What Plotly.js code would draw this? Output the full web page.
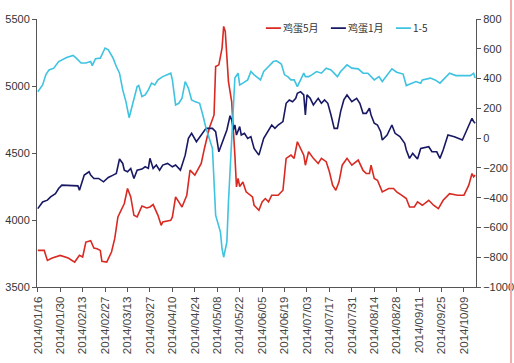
<!DOCTYPE html>
<html><head><meta charset="utf-8">
<script src="https://cdn.plot.ly/plotly-3.0.1.min.js"></script>
<style>html,body{margin:0;padding:0;background:#fff;overflow:hidden}#wrap{position:relative;width:514px;height:363px}#edge{position:absolute;left:510px;top:0;width:2px;height:363px;background:#f3adad}</style>
</head><body><div id="wrap"><div id="chart" style="width:514px;height:363px"></div><div id="edge"></div></div>
<script>
const may5Dates = ['2014-01-16','2014-01-20','2014-01-22','2014-01-25','2014-01-30','2014-02-04','2014-02-08','2014-02-11','2014-02-13','2014-02-15','2014-02-18','2014-02-20','2014-02-22','2014-02-24','2014-02-25','2014-02-28','2014-03-03','2014-03-05','2014-03-07','2014-03-10','2014-03-11','2014-03-13','2014-03-15','2014-03-17','2014-03-19','2014-03-22','2014-03-25','2014-03-27','2014-03-29','2014-04-01','2014-04-03','2014-04-04','2014-04-09','2014-04-10','2014-04-12','2014-04-14','2014-04-16','2014-04-19','2014-04-21','2014-04-24','2014-04-26','2014-04-28','2014-04-30','2014-05-03','2014-05-06','2014-05-07','2014-05-09','2014-05-11','2014-05-12','2014-05-13','2014-05-15','2014-05-17','2014-05-19','2014-05-20','2014-05-21','2014-05-22','2014-05-24','2014-05-26','2014-05-30','2014-05-31','2014-06-03','2014-06-05','2014-06-07','2014-06-09','2014-06-11','2014-06-15','2014-06-18','2014-06-20','2014-06-23','2014-06-25','2014-06-27','2014-06-29','2014-07-01','2014-07-02','2014-07-04','2014-07-07','2014-07-10','2014-07-12','2014-07-15','2014-07-17','2014-07-19','2014-07-21','2014-07-23','2014-07-25','2014-07-28','2014-07-31','2014-08-04','2014-08-07','2014-08-09','2014-08-11','2014-08-12','2014-08-14','2014-08-16','2014-08-19','2014-08-23','2014-08-26','2014-08-28','2014-08-31','2014-09-03','2014-09-05','2014-09-08','2014-09-10','2014-09-13','2014-09-17','2014-09-20','2014-09-23','2014-09-26','2014-09-30','2014-10-05','2014-10-09','2014-10-12','2014-10-14','2014-10-15','2014-10-16'];
const may5Values = [3773,3773,3698,3716,3736,3716,3686,3736,3724,3835,3846,3791,3786,3773,3691,3686,3761,3861,4023,4090,4123,4235,4172,4035,4023,4105,4090,4097,4115,4035,3960,3985,3998,4023,4172,4135,4097,4185,4372,4335,4385,4422,4534,4684,4784,5145,5158,5283,5445,5407,5033,4883,4484,4247,4310,4250,4284,4210,4172,4110,4073,4135,4160,4135,4185,4185,4222,4460,4484,4460,4584,4534,4484,4409,4509,4460,4422,4460,4435,4360,4260,4222,4285,4409,4460,4409,4447,4370,4347,4347,4409,4310,4297,4210,4235,4235,4210,4185,4160,4097,4097,4135,4110,4147,4110,4085,4147,4197,4185,4185,4260,4347,4322,4335];

const jan1Dates = ['2014-01-16','2014-01-19','2014-01-22','2014-01-24','2014-01-27','2014-01-29','2014-01-31','2014-02-05','2014-02-10','2014-02-11','2014-02-14','2014-02-17','2014-02-18','2014-02-20','2014-02-23','2014-02-26','2014-03-01','2014-03-04','2014-03-06','2014-03-08','2014-03-10','2014-03-11','2014-03-13','2014-03-15','2014-03-17','2014-03-19','2014-03-22','2014-03-24','2014-03-26','2014-03-27','2014-03-29','2014-03-31','2014-04-02','2014-04-04','2014-04-07','2014-04-10','2014-04-12','2014-04-15','2014-04-18','2014-04-20','2014-04-22','2014-04-25','2014-04-28','2014-05-01','2014-05-05','2014-05-07','2014-05-09','2014-05-11','2014-05-14','2014-05-16','2014-05-17','2014-05-18','2014-05-19','2014-05-20','2014-05-22','2014-05-23','2014-05-25','2014-05-27','2014-05-29','2014-05-31','2014-06-03','2014-06-06','2014-06-08','2014-06-11','2014-06-13','2014-06-15','2014-06-18','2014-06-20','2014-06-22','2014-06-24','2014-06-26','2014-06-27','2014-06-29','2014-07-01','2014-07-02','2014-07-03','2014-07-05','2014-07-07','2014-07-10','2014-07-12','2014-07-14','2014-07-16','2014-07-18','2014-07-20','2014-07-22','2014-07-24','2014-07-26','2014-07-28','2014-07-31','2014-08-03','2014-08-05','2014-08-07','2014-08-09','2014-08-11','2014-08-12','2014-08-14','2014-08-16','2014-08-18','2014-08-19','2014-08-22','2014-08-25','2014-08-27','2014-08-30','2014-09-02','2014-09-03','2014-09-05','2014-09-07','2014-09-10','2014-09-12','2014-09-17','2014-09-19','2014-09-22','2014-09-24','2014-09-26','2014-09-29','2014-10-03','2014-10-08','2014-10-11','2014-10-14','2014-10-15','2014-10-16'];
const jan1Values = [4085,4135,4148,4172,4197,4235,4260,4260,4255,4222,4335,4360,4335,4310,4310,4285,4317,4335,4347,4455,4422,4372,4360,4385,4310,4372,4380,4397,4385,4460,4385,4410,4372,4410,4422,4397,4410,4372,4484,4609,4647,4584,4634,4684,4684,4659,4509,4572,4672,4778,4747,4672,4709,4634,4697,4634,4647,4609,4622,4534,4484,4609,4647,4709,4684,4709,4734,4871,4896,4883,4908,4946,4958,4934,4784,4934,4908,4859,4908,4871,4896,4871,4784,4684,4684,4809,4896,4933,4883,4908,4871,4796,4796,4834,4784,4722,4709,4659,4597,4634,4709,4647,4622,4572,4522,4460,4497,4455,4534,4547,4509,4509,4460,4522,4634,4622,4597,4684,4759,4734,4722];

const spreadDates = ['2014-01-16','2014-01-19','2014-01-21','2014-01-23','2014-01-26','2014-01-29','2014-02-03','2014-02-07','2014-02-09','2014-02-12','2014-02-15','2014-02-18','2014-02-19','2014-02-21','2014-02-24','2014-02-27','2014-03-01','2014-03-04','2014-03-06','2014-03-08','2014-03-10','2014-03-12','2014-03-14','2014-03-15','2014-03-17','2014-03-19','2014-03-20','2014-03-22','2014-03-24','2014-03-26','2014-03-28','2014-03-30','2014-04-01','2014-04-04','2014-04-09','2014-04-10','2014-04-12','2014-04-14','2014-04-16','2014-04-18','2014-04-20','2014-04-22','2014-04-24','2014-04-27','2014-04-29','2014-05-01','2014-05-05','2014-05-06','2014-05-07','2014-05-10','2014-05-11','2014-05-12','2014-05-14','2014-05-15','2014-05-17','2014-05-18','2014-05-19','2014-05-21','2014-05-22','2014-05-24','2014-05-27','2014-05-29','2014-05-31','2014-06-04','2014-06-06','2014-06-09','2014-06-12','2014-06-14','2014-06-17','2014-06-19','2014-06-21','2014-06-23','2014-06-25','2014-06-27','2014-06-29','2014-07-01','2014-07-02','2014-07-04','2014-07-06','2014-07-09','2014-07-12','2014-07-15','2014-07-18','2014-07-22','2014-07-24','2014-07-28','2014-07-31','2014-08-04','2014-08-07','2014-08-10','2014-08-14','2014-08-17','2014-08-19','2014-08-22','2014-08-25','2014-08-28','2014-09-01','2014-09-03','2014-09-06','2014-09-09','2014-09-12','2014-09-13','2014-09-18','2014-09-21','2014-09-24','2014-09-27','2014-09-30','2014-10-04','2014-10-08','2014-10-13','2014-10-15','2014-10-16'];
const spreadValues = [312,357,425,458,470,514,541,555,537,504,504,514,487,533,537,605,593,537,481,436,324,245,137,178,268,346,353,279,290,324,369,357,391,413,436,391,223,234,268,380,335,256,245,234,155,66,-69,-294,-518,-631,-743,-800,-698,-429,-25,268,403,436,357,369,391,447,425,391,447,481,514,519,497,425,413,391,391,346,391,436,413,413,425,447,436,470,458,413,447,492,470,465,436,436,391,413,380,425,465,443,430,353,369,380,369,391,403,391,369,403,436,420,420,420,436,403];

const tickDates = ['2014-01-16','2014-01-30','2014-02-13','2014-02-27','2014-03-13','2014-03-27','2014-04-10','2014-04-24','2014-05-08','2014-05-22','2014-06-05','2014-06-19','2014-07-03','2014-07-17','2014-07-31','2014-08-14','2014-08-28','2014-09-11','2014-09-25','2014-10-09'];
const tickLabels = tickDates.map(d => d.replace(/-/g, '/'));
const seriesNames = ['鸡蛋5月', '鸡蛋1月', '1-5'];

const tickFont = {family: 'Liberation Sans, Arial, sans-serif', size: 11, color: '#333'};
const axisCommon = {showline: true, linecolor: '#555', linewidth: 1, ticks: 'outside', ticklen: 4, tickcolor: '#555', showgrid: false, zeroline: false, tickfont: tickFont};

const traces = [
  {x: may5Dates, y: may5Values, name: seriesNames[0], type: 'scatter', mode: 'lines', line: {color: '#d82a22', width: 1.6}},
  {x: jan1Dates, y: jan1Values, name: seriesNames[1], type: 'scatter', mode: 'lines', line: {color: '#181864', width: 1.6}},
  {x: spreadDates, y: spreadValues, name: seriesNames[2], type: 'scatter', mode: 'lines', yaxis: 'y2', line: {color: '#3ec3e0', width: 1.6}}
];

const layout = {
  width: 514, height: 363,
  margin: {l: 37, r: 38, t: 19, b: 76, pad: 0},
  paper_bgcolor: '#fff', plot_bgcolor: '#fff',
  showlegend: true,
  legend: {orientation: 'h', x: 0.469, xanchor: 'left', y: 1.02, yanchor: 'top', font: {family: 'Noto Sans CJK SC, sans-serif', size: 10, color: '#333'}, itemwidth: 30, bgcolor: 'rgba(0,0,0,0)', tracegroupgap: 0, entrywidth: 20, entrywidthmode: 'pixels'},
  xaxis: Object.assign({}, axisCommon, {type: 'date', range: ['2014-01-15 12:00', '2014-10-16 12:00'], tickvals: tickDates, ticktext: tickLabels, tickangle: -90, tickfont: {family: 'Liberation Sans, Arial, sans-serif', size: 11.5, color: '#444'}}),
  yaxis: Object.assign({}, axisCommon, {range: [3500, 5500], dtick: 500, tick0: 3500}),
  yaxis2: Object.assign({}, axisCommon, {range: [-1000, 800], dtick: 200, tick0: -1000, overlaying: 'y', side: 'right'})
};

Plotly.newPlot('chart', traces, layout, {displayModeBar: false, staticPlot: true}).then(function (gd) {
  gd.querySelectorAll('.legend .legendlines path').forEach(function (p) { p.setAttribute('d', 'M23,0h15'); });
});
</script>
</body></html>
